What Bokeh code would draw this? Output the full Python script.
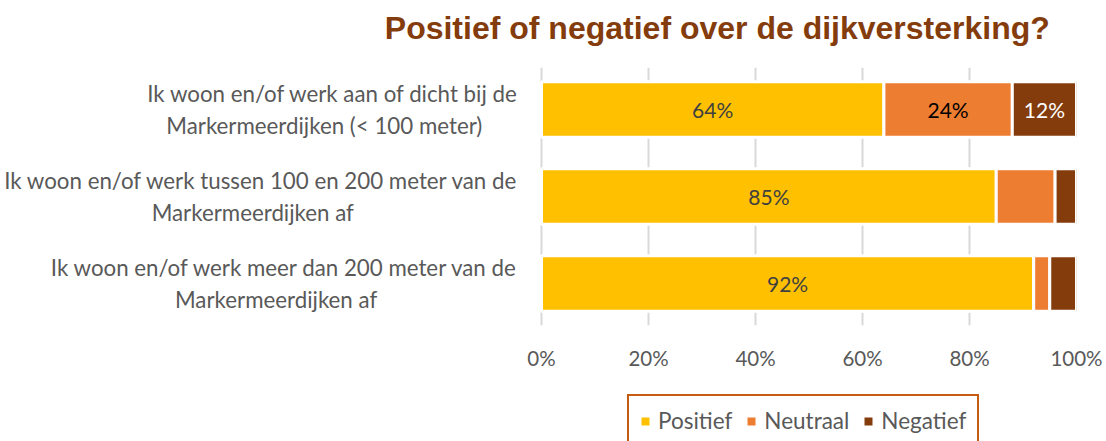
from bokeh.plotting import figure
from bokeh.layouts import column
from bokeh.models import Range1d, FixedTicker, Legend, LegendItem, ColumnDataSource
from bokeh.core.properties import value
from bokeh.embed import file_html
from bokeh.resources import INLINE

# ---- data ----
title_text = "Positief of negatief over de dijkversterking?"
category_lines = [
    ["Ik woon en/of werk aan of dicht bij de", "Markermeerdijken (< 100 meter)"],
    ["Ik woon en/of werk tussen 100 en 200 meter van de", "Markermeerdijken af"],
    ["Ik woon en/of werk meer dan 200 meter van de", "Markermeerdijken af"],
]
series_names = ["Positief", "Neutraal", "Negatief"]
positief = [64, 85, 92]
neutraal = [24, 11, 3]
negatief = [12, 4, 5]
positief_labels = ["64%", "85%", "92%"]
neutraal_labels = ["24%", "", ""]
negatief_labels = ["12%", "", ""]
tick_values = [0, 20, 40, 60, 80, 100]
tick_labels = ["0%", "20%", "40%", "60%", "80%", "100%"]

# ---- style ----
colors = ["#FFC000", "#ED7D31", "#843C0C"]
label_colors = ["#404040", "#000000", "#FFFFFF"]
FONT = "Lato"
GRAY = "#595959"

W = 1106
TITLE_H = 60
X0, X1, FY0, FY1 = 541, 1076, 67, 325   # page pixel positions of 0% / 100% and frame top / bottom
PX_PER_UNIT = (X1 - X0) / 100.0
Y_TOP, Y_BOT = -0.483, 2.483
MAIN_BOTTOM = 380

def dx(px):
    return (px - X0) / PX_PER_UNIT

# ---- title strip ----
pt = figure(width=W, height=TITLE_H, x_range=Range1d(0, W), y_range=Range1d(TITLE_H, 0),
            output_backend="svg", toolbar_location=None,
            min_border_left=0, min_border_right=0, min_border_top=0, min_border_bottom=0)
pt.axis.visible = False
pt.grid.visible = False
pt.outline_line_color = None
pt.text(x=[395], y=[27.5], text=[title_text], text_align="left", text_baseline="middle",
        text_font=value("Liberation Sans"), text_font_style="bold",
        text_font_size="32px", text_color="#843C0C")

# ---- main chart ----
p = figure(
    width=W, height=MAIN_BOTTOM - TITLE_H,
    x_range=Range1d(dx(0), 100), y_range=Range1d(Y_BOT, Y_TOP),
    output_backend="svg", toolbar_location=None,
    min_border_left=0, min_border_right=W - X1,
    min_border_top=FY0 - TITLE_H, min_border_bottom=MAIN_BOTTOM - FY1,
)
p.outline_line_color = None
p.yaxis.visible = False
p.ygrid.visible = False
p.xgrid.ticker = FixedTicker(ticks=tick_values)
p.xgrid.grid_line_color = "#D9D9D9"
p.xgrid.grid_line_width = 2

ax = p.xaxis[0]
ax.ticker = FixedTicker(ticks=tick_values)
ax.major_label_overrides = {v: t for v, t in zip(tick_values, tick_labels)}
ax.axis_line_color = None
ax.major_tick_line_color = None
ax.minor_tick_line_color = None
ax.major_label_standoff = 14
ax.major_label_text_font = FONT
ax.major_label_text_font_size = "20.5px"
ax.major_label_text_color = GRAY

rows = list(range(len(category_lines)))
series = [positief, neutraal, negatief]
series_labels = [positief_labels, neutraal_labels, negatief_labels]
left = [0] * len(rows)
for name, vals, labs, col, lcol in zip(series_names, series, series_labels, colors, label_colors):
    right = [a + b for a, b in zip(left, vals)]
    p.hbar(y=rows, left=left, right=right, height=0.64,
           fill_color=col, line_color="white", line_width=3)
    centers = [(a + b) / 2 for a, b in zip(left, right)]
    src = ColumnDataSource(dict(x=centers, y=rows, t=labs))
    p.text(x="x", y="y", text="t", source=src, text_align="center", text_baseline="middle",
           text_color=lcol, text_font=value(FONT), text_font_size="21px")
    left = right

cat_src = ColumnDataSource(dict(
    x=[dx(518)] * len(rows), y=rows,
    t=[a + "\n" + b + "   " for a, b in category_lines],
))
p.text(x="x", y="y", text="t", source=cat_src, anchor=value("center_right"),
       text_align="center", text_baseline="middle", text_line_height=1.18,
       text_color=GRAY, text_font=value(FONT), text_font_size="22.3px")

# ---- legend strip ----
LEG_H = 441 - MAIN_BOTTOM
p2 = figure(width=W, height=LEG_H, x_range=Range1d(0, 1), y_range=Range1d(0, 1),
            output_backend="svg", toolbar_location=None,
            min_border_left=0, min_border_right=0, min_border_top=0, min_border_bottom=0)
p2.axis.visible = False
p2.grid.visible = False
p2.outline_line_color = None
items = []
for name, col in zip(series_names, colors):
    # legend swatch source: a single hidden bar outside the visible range
    r = p2.hbar(y=[-5], left=[0], right=[1], height=1, fill_color=col, line_color=None)
    items.append(LegendItem(label=name, renderers=[r]))
legend = Legend(items=items, orientation="horizontal", location=(627, -6),
                border_line_color="#C55A11", border_line_width=2.5, border_line_alpha=1,
                glyph_width=10, glyph_height=10, label_standoff=8, spacing=14,
                padding=11, margin=0, background_fill_color="white", background_fill_alpha=1,
                label_text_font=FONT, label_text_font_size="22.5px", label_text_color=GRAY)
p2.add_layout(legend)

open("out.html", "w").write(file_html(column(pt, p, p2), INLINE))
